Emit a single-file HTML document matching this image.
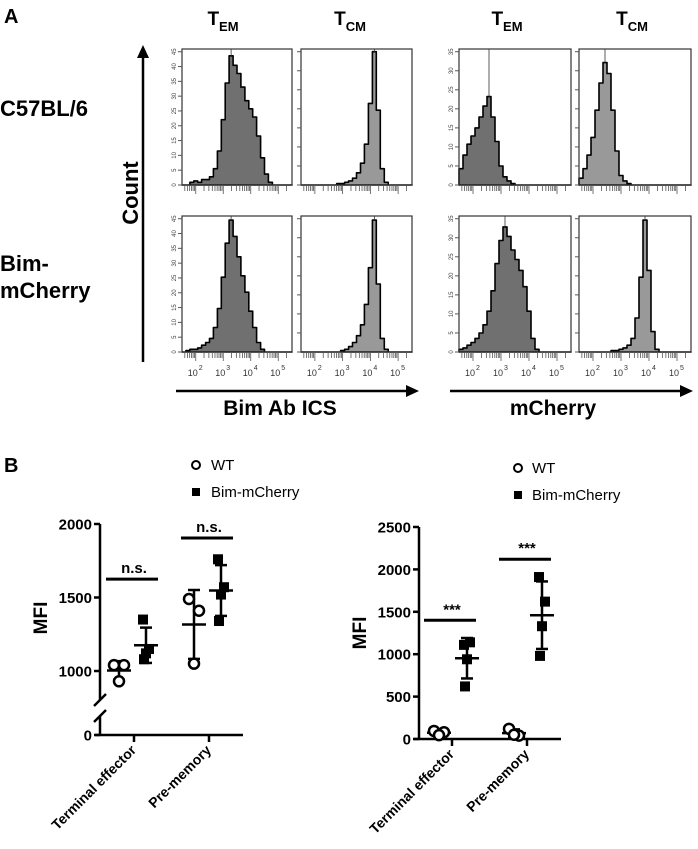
<!DOCTYPE html>
<html><head><meta charset="utf-8"><style>
body{margin:0;background:#fff;}
svg{display:block;font-family:"Liberation Sans",Arial,sans-serif;}
</style></head><body>
<svg id="fig" width="698" height="849" viewBox="0 0 698 849">
<g>
<text x="4" y="23" font-size="20" font-weight="bold">A</text>
<text x="223" y="25" font-size="19" font-weight="bold" text-anchor="middle">T<tspan font-size="13" dy="6">EM</tspan></text>
<text x="350" y="25" font-size="19" font-weight="bold" text-anchor="middle">T<tspan font-size="13" dy="6">CM</tspan></text>
<text x="507" y="25" font-size="19" font-weight="bold" text-anchor="middle">T<tspan font-size="13" dy="6">EM</tspan></text>
<text x="632" y="25" font-size="19" font-weight="bold" text-anchor="middle">T<tspan font-size="13" dy="6">CM</tspan></text>
<text x="0" y="116" font-size="22" font-weight="bold">C57BL/6</text>
<text x="0" y="271" font-size="22" font-weight="bold">Bim-</text>
<text x="0" y="298" font-size="22" font-weight="bold">mCherry</text>
<text transform="translate(138,193) rotate(-90)" font-size="22" font-weight="bold" text-anchor="middle">Count</text>
<line x1="143" y1="362" x2="143" y2="56" stroke="#000" stroke-width="2.5"/>
<polygon points="137,58 149,58 143,45" fill="#000"/>
<line x1="176" y1="391" x2="408" y2="391" stroke="#000" stroke-width="2.5"/>
<polygon points="406,385 406,397 419,391" fill="#000"/>
<text x="280" y="415" font-size="21" font-weight="bold" text-anchor="middle">Bim Ab ICS</text>
<line x1="450" y1="391" x2="682" y2="391" stroke="#000" stroke-width="2.5"/>
<polygon points="680,385 680,397 693,391" fill="#000"/>
<text x="553" y="415" font-size="21" font-weight="bold" text-anchor="middle">mCherry</text>
<g id="hists"></g>
</g>
<g>
<text x="4" y="472" font-size="20" font-weight="bold">B</text>
<circle cx="196" cy="465" r="4" fill="#fff" stroke="#000" stroke-width="2"/>
<text x="211" y="470" font-size="15">WT</text>
<rect x="192" y="488" width="8" height="8" fill="#000"/>
<text x="211" y="497" font-size="15">Bim-mCherry</text>
<circle cx="518" cy="468" r="4" fill="#fff" stroke="#000" stroke-width="2"/>
<text x="532" y="473" font-size="15">WT</text>
<rect x="514" y="491" width="8" height="8" fill="#000"/>
<text x="532" y="500" font-size="15">Bim-mCherry</text>
<g id="chartL"></g>
<g id="chartR"></g>
</g>
</svg>
<script>
// ---- histogram data (relative counts per bin, 28 bins) ----
const histWtTemBim=[0,0,.02,.03,.02,.04,.04,.06,.12,.25,.48,.75,.95,.88,.82,.72,.62,.56,.5,.36,.2,.08,.02,0,0,0,0,0];
const histWtTcmBim=[0,0,0,0,0,0,0,0,0,.01,.01,.02,.03,.05,.09,.16,.3,.6,.98,.55,.12,.02,0,0,0,0,0,0];
const histWtTemMch=[.12,.22,.3,.36,.42,.5,.58,.65,.5,.32,.14,.06,.03,.01,0,0,0,0,0,0,0,0,0,0,0,0,0,0];
const histWtTcmMch=[.05,.12,.22,.35,.55,.75,.9,.82,.55,.25,.07,.03,.01,0,0,0,0,0,0,0,0,0,0,0,0,0,0,0];
const histMcTemBim=[0,.01,.02,.02,.03,.05,.07,.1,.18,.32,.55,.8,.97,.85,.7,.56,.44,.3,.18,.07,.02,0,0,0,0,0,0,0];
const histMcTcmBim=[0,0,0,0,0,0,0,0,0,0,.01,.02,.04,.07,.12,.2,.35,.62,.97,.5,.1,.02,0,0,0,0,0,0];
const histMcTemMch=[.02,.03,.05,.07,.1,.14,.2,.3,.45,.65,.82,.92,.85,.75,.68,.6,.48,.3,.1,.02,0,0,0,0,0,0,0,0];
const histMcTcmMch=[0,0,0,0,0,0,0,0,.01,.01,.02,.03,.05,.1,.25,.55,.97,.6,.15,.02,0,0,0,0,0,0,0,0];
const decadeLabels=["2","3","4","5"];
const yTickLabels=["0","5","10","15","20","25","30","35","40","45"];

// ---- scatter data ----
const groups=["Terminal effector","Pre-memory"];
const leftWt=[[1040,1040,930],[1490,1410,1050]];
const leftBim=[[1350,1150,1120,1080],[1760,1570,1520,1340]];
const leftSig=[1625,1905];
const leftSigText=["n.s.","n.s."];
const leftTicks=[1000,1500,2000];
const rightWt=[[95,80,45],[120,40,50]];
const rightBim=[[1110,1140,940,620],[1910,1620,1330,980]];
const rightSig=[1400,2120];
const rightSigText=["***","***"];
const rightTicks=[0,500,1000,1500,2000,2500];

const NS="http://www.w3.org/2000/svg";
function mk(tag,attrs,parent){const e=document.createElementNS(NS,tag);for(const k in attrs)e.setAttribute(k,attrs[k]);parent.appendChild(e);return e;}

const boxesX=[[182,292],[301,412],[459,571],[579,691]];
const boxesY=[[49,185],[216,352]];
const hists=[[histWtTemBim,histWtTcmBim,histWtTemMch,histWtTcmMch],[histMcTemBim,histMcTcmBim,histMcTemMch,histMcTcmMch]];
const hg=document.getElementById('hists');
hists.forEach((row,ri)=>row.forEach((h,ci)=>{
  const [x0,x1]=boxesX[ci],[y0,y1]=boxesY[ri];
  const g=mk('g',{},hg);
  
  
  const bw=(x1-x0)/h.length,H=y1-y0;
  let d='M'+x0+','+y1;let mi=0;
  h.forEach((v,i)=>{const y=y1-v*H;d+=' L'+(x0+i*bw).toFixed(1)+','+y.toFixed(1)+' L'+(x0+(i+1)*bw).toFixed(1)+','+y.toFixed(1);if(v>h[mi])mi=i;});
  d+=' L'+x1+','+y1+' Z';
  const p=mk('path',{d:d,fill:ci%2?'#999':'#707070',stroke:'#000','stroke-width':1.6,'stroke-linejoin':'round'},g);
  
  
  const px=x0+(mi+.5)*bw;
  mk('line',{x1:px,y1:y0,x2:px,y2:y1-h[mi]*H,stroke:'#333','stroke-width':0.8},g);
  const r=mk('rect',{x:x0,y:y0,width:x1-x0,height:y1-y0,fill:'none',stroke:'#333','stroke-width':1.2},g);
  
  
  const nt=(ci===0)?yTickLabels.length:8;
  for(let i=0;i<nt;i++){const y=y1-i*(H*0.98/(nt-1));
    mk('line',{x1:x0-4,y1:y,x2:x0,y2:y,stroke:'#555','stroke-width':1},g);
    if(ci%2===0){const t=mk('text',{transform:'translate('+(x0-6)+','+y+') rotate(-90)','font-size':6,'text-anchor':'middle',fill:'#444'},g);t.textContent=yTickLabels[i]||'';}
  }
  const dw=(x1-x0)*0.25;
  for(let dcd=-1;dcd<4;dcd++)for(let m=1;m<10;m++){const x=x0+(dcd+0.5+Math.log10(m))*dw;if(x<x0+2||x>x1-2)continue;
    mk('line',{x1:x,y1:y1,x2:x,y2:y1+(m===1?9:6),stroke:'#555','stroke-width':0.8},g);}
  if(ri===1){decadeLabels.forEach((lab,k)=>{const x=x0+(k+0.5)*dw;
    const t=mk('text',{x:x-3,y:376,'font-size':9,fill:'#333','text-anchor':'middle'},g);t.textContent='10';
    const s=mk('text',{x:x+3,y:370,'font-size':7,fill:'#333'},g);s.textContent=lab;});}
}));

function drawChart(id,cfg){
  const g=document.getElementById(id);
  const Y=cfg.y;
  const ax=mk('g',{},g);
  
  
  cfg.axisSegs.forEach(s=>mk('line',{x1:cfg.ax,y1:s[0],x2:cfg.ax,y2:s[1],stroke:'#000','stroke-width':2.5},ax));
  (cfg.breaks||[]).forEach(b=>mk('line',{x1:cfg.ax-6,y1:b+6,x2:cfg.ax+6,y2:b-6,stroke:'#000','stroke-width':2.5},ax));
  cfg.ticks.forEach(v=>{const y=Y(v);mk('line',{x1:cfg.ax-6,y1:y,x2:cfg.ax,y2:y,stroke:'#000','stroke-width':2.5},ax);
    const t=mk('text',{x:cfg.ax-8,y:y+5.5,'font-size':15,'font-weight':'bold','text-anchor':'end'},ax);t.textContent=v;});
  const xa=mk('line',{x1:cfg.ax-5,y1:cfg.y0,x2:cfg.xEnd,y2:cfg.y0,stroke:'#000','stroke-width':2.5},g);
  
  
  const tt=mk('text',{transform:'translate('+cfg.titleX+','+cfg.titleY+') rotate(-90)','font-size':19,'font-weight':'bold','text-anchor':'middle'},g);
  tt.textContent='MFI';
  
  
  groups.forEach((name,gi)=>{
    const cx=cfg.cats[gi];
    mk('line',{x1:cx,y1:cfg.y0,x2:cx,y2:cfg.y0+7,stroke:'#000','stroke-width':2.5},g);
    const lab=mk('text',{transform:'translate('+(cx+3)+','+(cfg.y0+16)+') rotate(-45)','font-size':14,'font-weight':'bold','text-anchor':'end'},g);
    lab.textContent=name;
    
    
    const sy=Y(cfg.sig[gi]);
    const sl=mk('line',{x1:cx-28,y1:sy,x2:cx+24,y2:sy,stroke:'#000','stroke-width':3},g);
    
    
    const st=mk('text',{x:cx,y:sy-6,'font-size':15,'font-weight':'bold','text-anchor':'middle'},g);
    st.textContent=cfg.sigText[gi];
    [[cfg.wt[gi],cx+cfg.wtOff,'wt',[-5,5,0]],[cfg.bim[gi],cx+cfg.bimOff,'bim',[-3,3,0,-2]]].forEach(([vals,x,kind,jit])=>{
      const m=vals.reduce((a,b)=>a+b,0)/vals.length;
      const sd=Math.sqrt(vals.reduce((a,b)=>a+(b-m)*(b-m),0)/(vals.length-1));
      const eg=mk('g',{},g);
      
      
      mk('line',{x1:x,y1:Y(m-sd),x2:x,y2:Y(m+sd),stroke:'#000','stroke-width':2.5},eg);
      mk('line',{x1:x-6,y1:Y(m-sd),x2:x+6,y2:Y(m-sd),stroke:'#000','stroke-width':2.5},eg);
      mk('line',{x1:x-6,y1:Y(m+sd),x2:x+6,y2:Y(m+sd),stroke:'#000','stroke-width':2.5},eg);
      mk('line',{x1:x-12,y1:Y(m),x2:x+12,y2:Y(m),stroke:'#000','stroke-width':2.5},eg);
      vals.forEach((v,i)=>{const px=x+jit[i%jit.length];
        let e;
        if(kind==='wt')e=mk('circle',{cx:px,cy:Y(v),r:5,fill:'#fff',stroke:'#000','stroke-width':2.5},g);
        else e=mk('rect',{x:px-5,y:Y(v)-5,width:10,height:10,fill:'#000'},g);
        
        
      });
    });
  });
}
drawChart('chartL',{name:'left-chart',ax:100,y0:735,xEnd:243,cats:[134,209],
  y:v=>v<=0?735:671-(v-1000)*0.147,ticks:[0,...leftTicks],axisSegs:[[524,700],[716,735]],breaks:[700,716],
  wt:leftWt,bim:leftBim,sig:leftSig,sigText:leftSigText,wtOff:-15,bimOff:12,titleX:47,titleY:618});
drawChart('chartR',{name:'right-chart',ax:419,y0:739,xEnd:561,cats:[452,527],
  y:v=>739-v*0.0848,ticks:rightTicks,axisSegs:[[527,739]],
  wt:rightWt,bim:rightBim,sig:rightSig,sigText:rightSigText,wtOff:-13,bimOff:15,titleX:366,titleY:633});
</script>
</body></html>
